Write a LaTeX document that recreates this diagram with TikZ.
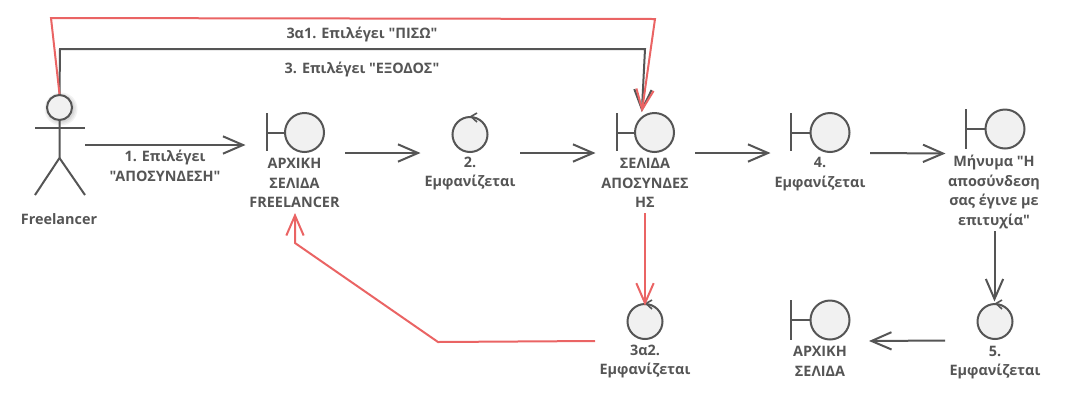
\documentclass[tikz,border=0pt]{standalone}
\usepackage{fontspec}
\setmainfont[Ligatures=TeXOff]{Open Sans}
\usepackage{xcolor}
\usetikzlibrary{arrows.meta}
\definecolor{umlgray}{HTML}{555555}
\definecolor{umlred}{HTML}{EA6464}
\definecolor{umlfill}{HTML}{F1F1F1}
\tikzset{
  umlline/.style={draw=umlgray, line width=1.5pt},
  umlthin/.style={draw=umlgray, line width=1.2pt},
  boundarynode/.style={
    circle, draw=umlgray, line width=1.5pt, fill=umlfill,
    minimum size=29.25pt, inner sep=0pt
  },
  controlnode/.style={
    circle, draw=umlgray, line width=1.5pt, fill=umlfill,
    minimum size=26.25pt, inner sep=0pt
  },
  umllabel/.style={
    align=center, inner sep=0pt, text=umlgray, yshift=-1.1pt,
    font=\fontsize{10.8}{14.6}\selectfont\bfseries
  },
  flowarrow/.style={
    -{Straight Barb[length=15pt, width=13pt]}, line width=1.5pt, draw=umlgray
  },
  redarrow/.style={
    -{Straight Barb[length=15pt, width=13pt]}, line width=1.5pt, draw=umlred
  },
}
\begin{document}
\begin{tikzpicture}[x=0.75pt, y=-0.75pt]
  \useasboundingbox (0,0) rectangle (1065,401);

  % Actor
  \fill[black, opacity=0.05] (61,109) circle (16.5);
  \fill[black, opacity=0.05] (61,109) circle (15);
  \fill[black, opacity=0.06] (61,109) circle (13.5);
  \node[controlnode, minimum size=18.75pt] (actorhead) at (59.5,107.5) {};
  \draw[umlline] (actorhead.south) -- (59.5,158) -- (35,195);
  \draw[umlline] (59.5,158) -- (85,195);
  \draw[umlline] (35,128) -- (85,128);
  \node[umllabel] (actorlabel) at (59,218) {Freelancer};

  % Top row
  \node[boundarynode] (home) at (304.5,132.5) {};
  \draw[umlline] (266.5,113) -- (266.5,151) (266.5,132.5) -- (home.west);
  \node[umllabel] (homelabel) at (294.5,181.5) {ΑΡΧΙΚΗ\\ΣΕΛΙΔΑ\\FREELANCER};

  \node[controlnode] (showtwo) at (470,134.5) {};
  \draw[umlthin] (477,113) -- (471,116.5) -- (477,122);
  \node[umllabel] (showtwolabel) at (470,172) {2.\\Εμφανίζεται};

  \node[boundarynode] (logout) at (654.5,132.5) {};
  \draw[umlline] (616.5,113) -- (616.5,151) (616.5,132.5) -- (logout.west);
  \node[umllabel] (logoutlabel) at (645,181.5) {ΣΕΛΙΔΑ\\ΑΠΟΣΥΝΔΕΣ\\ΗΣ};

  \node[boundarynode] (showfour) at (830,132.5) {};
  \draw[umlline] (791,113) -- (791,151) (791,132.5) -- (showfour.west);
  \node[umllabel] (showfourlabel) at (820,172.5) {4.\\Εμφανίζεται};

  \node[boundarynode] (message) at (1005,129) {};
  \draw[umlline] (965.5,109) -- (965.5,149) (965.5,129) -- (message.west);
  \node[umllabel] (messagelabel) at (994,190.5)
    {Μήνυμα "Η\\αποσύνδεση\\σας έγινε με\\επιτυχία"};

  % Bottom row
  \node[controlnode] (showback) at (645,321.5) {};
  \draw[umlthin] (652,300) -- (646,303.5) -- (652,309);
  \node[umllabel] (showbacklabel) at (645,360) {3α2.\\Εμφανίζεται};

  \node[boundarynode] (mainpage) at (830,320) {};
  \draw[umlline] (791,300) -- (791,340) (791,320) -- (mainpage.west);
  \node[umllabel] (mainpagelabel) at (820,360) {ΑΡΧΙΚΗ\\ΣΕΛΙΔΑ};

  \node[controlnode] (showfive) at (995,321.5) {};
  \draw[umlthin] (1002,300) -- (996,303.5) -- (1002,309);
  \node[umllabel] (showfivelabel) at (995,361) {5.\\Εμφανίζεται};

  % Main flow
  \draw[flowarrow] ([shift={(25.5,37.5)}]actorhead.center) --
    ([shift={(-59,12.5)}]home.center);
  \node[umllabel] (stepone) at (165,164.5) {1. Επιλέγει\\"ΑΠΟΣΥΝΔΕΣΗ"};
  \draw[flowarrow] ([shift={(40.5,20.5)}]home.center) --
    ([shift={(-49.5,18.5)}]showtwo.center);
  \draw[flowarrow] ([shift={(50,18.5)}]showtwo.center) --
    ([shift={(-59,20.5)}]logout.center);
  \draw[flowarrow] ([shift={(40.5,20.5)}]logout.center) --
    ([shift={(-59.5,20.5)}]showfour.center);
  \draw[flowarrow] ([shift={(40,20.5)}]showfour.center) --
    ([shift={(-59.5,24.5)}]message.center);
  \draw[flowarrow] ([shift={(-10.5,102)}]message.center) --
    ([shift={(-0.5,-20)}]showfive.center);
  \draw[flowarrow] ([shift={(-50,19)}]showfive.center) --
    ([shift={(39,21)}]mainpage.center);

  % Upper loop
  \draw[flowarrow] (actorhead.north) -- (60,49) -- (645,49) --
    ([xshift=-9.5]logout.north);
  \node[umllabel] (stepthree) at (362,68) {3. Επιλέγει "ΕΞΟΔΟΣ"};
  \draw[redarrow] (actorhead.north) -- (51,18) -- (655,19) --
    ([xshift=-9.5]logout.north);
  \node[umllabel] (stepback) at (362,33) {3α1. Επιλέγει "ΠΙΣΩ"};

  % Alternative flow
  \draw[redarrow] ([shift={(-9.5,80.5)}]logout.center) --
    ([yshift=-2]showback.north);
  \draw[redarrow] ([shift={(-50,19.5)}]showback.center) -- (438,342) -- (295,243) --
    ([shift={(-9.5,80.5)}]home.center);
\end{tikzpicture}
\end{document}
